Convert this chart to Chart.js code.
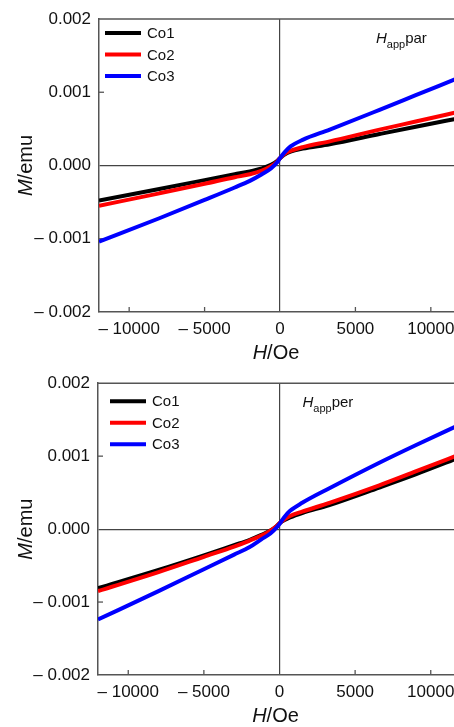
<!DOCTYPE html>
<html>
<head>
<meta charset="utf-8">
<script src="https://cdn.jsdelivr.net/npm/chart.js@4"></script>
<style>
  html, body { margin: 0; padding: 0; background: #fff; overflow: hidden; }
  body { width: 454px; height: 727px; position: relative; }
  .panel { position: absolute; left: 0; width: 480px; }
  #top { top: 0; height: 364px; }
  #bottom { top: 365px; height: 362px; }
</style>
</head>
<body>
<div class="panel" id="top"><canvas id="chartPar" width="480" height="364"></canvas></div>
<div class="panel" id="bottom"><canvas id="chartPer" width="480" height="362"></canvas></div>
<script>
// applied field (Oe)
var fieldOe = [-12000, -8000, -5000, -3000, -2000, -1200, -600, -200, 0, 300, 700, 1500, 3300, 6600, 9000, 12000];

// H_app parallel
var parCo1 = [-0.00048, -0.00032, -0.00020, -0.00012, -0.00008, -0.00004, 0.00001, 0.00006, 0.00010, 0.00015, 0.00019, 0.00023, 0.00029, 0.00043, 0.00053, 0.00065];
var parCo2 = [-0.00055, -0.00038, -0.00025, -0.00016, -0.00012, -0.00007, -0.00001, 0.00005, 0.00010, 0.00016, 0.00020, 0.00025, 0.00033, 0.00049, 0.00060, 0.00074];
var parCo3 = [-0.00104, -0.00072, -0.00047, -0.00030, -0.00021, -0.00012, -0.00004, 0.00004, 0.00010, 0.00018, 0.00026, 0.00035, 0.00049, 0.00076, 0.00096, 0.00121];

// H_app perpendicular
var perCo1 = [-0.00081, -0.00056, -0.00036, -0.00022, -0.00015, -0.00008, -0.00002, 0.00004, 0.00008, 0.00012, 0.00016, 0.00022, 0.00033, 0.00057, 0.00075, 0.00099];
var perCo2 = [-0.00085, -0.00059, -0.00038, -0.00024, -0.00016, -0.00009, -0.00002, 0.00004, 0.00008, 0.00013, 0.00018, 0.00024, 0.00036, 0.00060, 0.00079, 0.00103];
var perCo3 = [-0.00124, -0.00085, -0.00055, -0.00035, -0.00025, -0.00014, -0.00006, 0.00002, 0.00007, 0.00016, 0.00025, 0.00036, 0.00056, 0.00091, 0.00115, 0.00144];

var seriesLabels = ['Co1', 'Co2', 'Co3'];
var xTicks = [-10000, -5000, 0, 5000, 10000];
var yTicks = [-0.002, -0.001, 0, 0.001, 0.002];

var colors = ['#000000', '#ff0000', '#0000ff'];
var FONT = "'Liberation Sans', Arial, Helvetica, sans-serif";
var AXIS = '#555555';

function minus(s) { return '\u2013 ' + s; }

// draws text pieces with mixed styles, left aligned at x
function drawParts(ctx, parts, x, y) {
    parts.forEach(function (p) {
        ctx.font = p.font;
        ctx.fillText(p.text, x, y + (p.dy || 0));
        x += ctx.measureText(p.text).width;
    });
    return x;
}
function partsWidth(ctx, parts) {
    var w = 0;
    parts.forEach(function (p) { ctx.font = p.font; w += ctx.measureText(p.text).width; });
    return w;
}

var decorPlugin = {
    id: 'decor',
    beforeDatasetsDraw: function (chart) {
        var ctx = chart.ctx, a = chart.chartArea;
        var xs = chart.scales.x, ys = chart.scales.y;
        ctx.save();
        ctx.strokeStyle = AXIS;
        ctx.lineWidth = 1.5;
        // top frame line
        ctx.beginPath();
        ctx.moveTo(a.left, a.top);
        ctx.lineTo(a.right, a.top);
        ctx.stroke();
        // inward tick marks
        ctx.lineWidth = 1.3;
        xTicks.forEach(function (v) {
            if (v === 0) return;
            var px = xs.getPixelForValue(v);
            ctx.beginPath();
            ctx.moveTo(px, a.bottom);
            ctx.lineTo(px, a.bottom - 5);
            ctx.stroke();
        });
        yTicks.forEach(function (v) {
            if (v === 0 || Math.abs(v) > 0.0015) return;
            var py = ys.getPixelForValue(v);
            ctx.beginPath();
            ctx.moveTo(a.left, py);
            ctx.lineTo(a.left + 5, py);
            ctx.stroke();
        });
        ctx.restore();
    },
    afterDraw: function (chart) {
        var ctx = chart.ctx, a = chart.chartArea;
        var o = chart.options.plugins.decor;
        var xs = chart.scales.x;
        ctx.save();
        ctx.fillStyle = '#111';
        ctx.textBaseline = 'middle';

        // legend
        seriesLabels.forEach(function (lab, i) {
            var y = a.top + o.legendY + i * 21.5;
            ctx.strokeStyle = colors[i];
            ctx.lineWidth = 4;
            ctx.beginPath();
            ctx.moveTo(a.left + o.legendX, y);
            ctx.lineTo(a.left + o.legendX + 36, y);
            ctx.stroke();
            ctx.font = '15px ' + FONT;
            ctx.textAlign = 'left';
            ctx.fillText(lab, a.left + o.legendX + 42, y + 1);
        });

        // annotation H_app par / per
        ctx.textBaseline = 'alphabetic';
        ctx.textAlign = 'left';
        var ax = xs.getPixelForValue(0) + o.noteX;
        drawParts(ctx, [
            { text: 'H', font: 'italic 15px ' + FONT },
            { text: 'app', font: '11px ' + FONT, dy: 5 },
            { text: o.note, font: '15px ' + FONT }
        ], ax, a.top + 24);

        // x title
        var xt = [
            { text: 'H', font: 'italic 20px ' + FONT },
            { text: '/Oe', font: '20px ' + FONT }
        ];
        var cx = xs.getPixelForValue(0) - 4;
        drawParts(ctx, xt, cx - partsWidth(ctx, xt) / 2, a.bottom + 47);

        // y title, rotated
        var yt = [
            { text: 'M', font: 'italic 20px ' + FONT },
            { text: '/emu', font: '20px ' + FONT }
        ];
        ctx.translate(32, chart.scales.y.getPixelForValue(0));
        ctx.rotate(-Math.PI / 2);
        drawParts(ctx, yt, -partsWidth(ctx, yt) / 2, 0);
        ctx.restore();
    }
};

function makeChart(id, series, cfg) {
    var datasets = series.map(function (vals, i) {
        return {
            label: seriesLabels[i],
            data: fieldOe.map(function (h, j) { return { x: h, y: vals[j] }; }),
            borderColor: colors[i],
            borderWidth: 4,
            pointRadius: 0,
            tension: 0.4,
            cubicInterpolationMode: 'monotone',
            order: 2 - i
        };
    });
    var tickFont = { family: FONT, size: 17 };
    return new Chart(document.getElementById(id), {
        type: 'line',
        data: { datasets: datasets },
        options: {
            responsive: false,
            animation: false,
            layout: { padding: { top: cfg.top, right: 19, left: 0, bottom: 0 } },
            plugins: {
                legend: { display: false },
                tooltip: { enabled: false },
                decor: cfg.decor
            },
            scales: {
                x: {
                    type: 'linear',
                    min: -12000,
                    max: 12000,
                    afterBuildTicks: function (s) { s.ticks = xTicks.map(function (v) { return { value: v }; }); },
                    afterFit: function (s) { s.height = 52; },
                    ticks: {
                        color: '#111',
                        font: tickFont,
                        padding: 7,
                        maxRotation: 0,
                        autoSkip: false,
                        callback: function (v) { return v < 0 ? minus(Math.abs(v)) : String(v); }
                    },
                    grid: {
                        drawTicks: false,
                        lineWidth: 1.2,
                        color: function (c) { return c.tick && c.tick.value === 0 ? '#444' : 'rgba(0,0,0,0)'; }
                    },
                    border: { display: true, color: AXIS, width: 1.5 }
                },
                y: {
                    type: 'linear',
                    min: -0.002,
                    max: 0.002,
                    afterBuildTicks: function (s) { s.ticks = yTicks.map(function (v) { return { value: v }; }); },
                    afterFit: function (s) { s.width = cfg.left; },
                    ticks: {
                        color: '#111',
                        font: tickFont,
                        padding: 8,
                        autoSkip: false,
                        callback: function (v) {
                            var t = Math.abs(v).toFixed(3);
                            return v < -1e-9 ? minus(t) : t;
                        }
                    },
                    grid: {
                        drawTicks: false,
                        lineWidth: 1.2,
                        color: function (c) { return c.tick && Math.abs(c.tick.value) < 1e-9 ? '#444' : 'rgba(0,0,0,0)'; }
                    },
                    border: { display: true, color: AXIS, width: 1.5 }
                }
            }
        },
        plugins: [decorPlugin]
    });
}

makeChart('chartPar', [parCo1, parCo2, parCo3], {
    top: 19, left: 99,
    decor: { legendX: 6, legendY: 14, noteX: 96, note: 'par' }
});
makeChart('chartPer', [perCo1, perCo2, perCo3], {
    top: 16, left: 98,
    decor: { legendX: 12, legendY: 18, noteX: 23, note: 'per' }
});
</script>
</body>
</html>
